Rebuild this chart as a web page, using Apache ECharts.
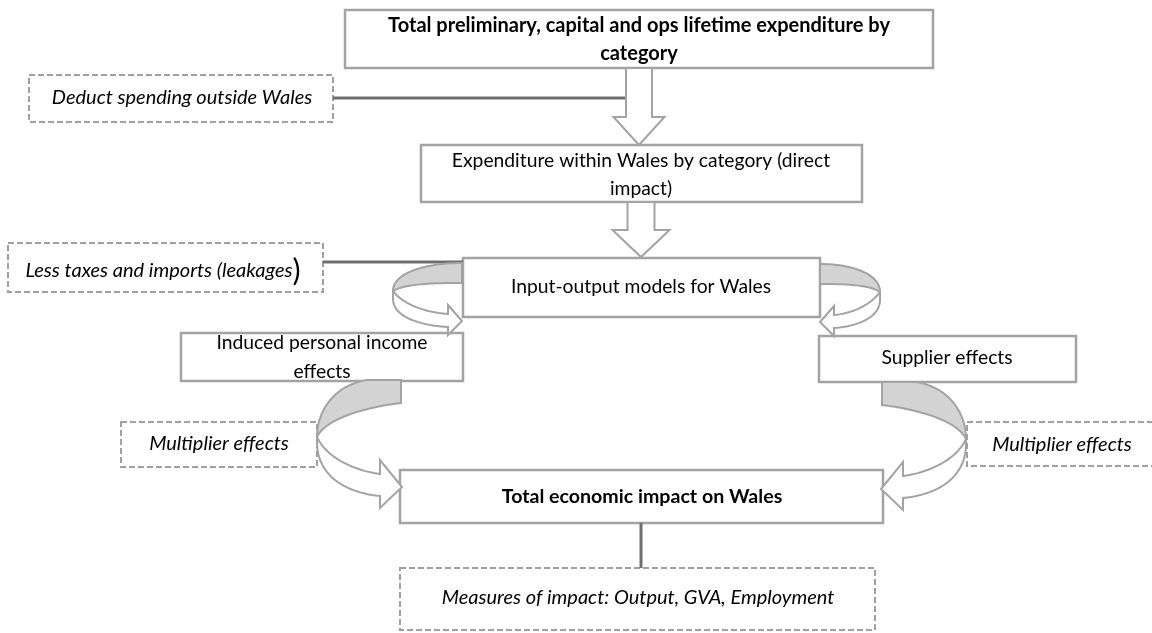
<!DOCTYPE html>
<html>
<head>
<meta charset="utf-8">
<script src="https://cdn.jsdelivr.net/npm/echarts@6/dist/echarts.min.js"></script>
<style>html,body{margin:0;padding:0;background:#fff;}#main{width:1152px;height:633px;}</style>
</head>
<body>
<div id="main"></div>
<script>
// ---- text content ----
const mainNodes = [
  ['Total preliminary, capital and ops lifetime expenditure by', 'category'],
  ['Expenditure within Wales by category (direct', 'impact)'],
  ['Input-output models for Wales'],
  ['Induced personal income', 'effects'],
  ['Supplier effects'],
  ['Total economic impact on Wales']
];
const sideNotes = [
  'Deduct spending outside Wales',
  'Less taxes and imports (leakages',
  'Multiplier effects',
  'Multiplier effects',
  'Measures of impact: Output, GVA, Employment'
];

// ---- layout ----
const BOX = '#a3a3a3', DASH = '#a0a0a0', LINE = '#6e6e6e', GRAYFILL = '#d3d3d3', TXT = '#000';
const FONT = 'Lato, "Liberation Sans", sans-serif';
const els = [];
function box(x, y, w, h) {
  els.push({type:'rect', shape:{x, y, width:w, height:h}, style:{fill:'#fff', stroke:BOX, lineWidth:2.5}, z:1});
}
function dbox(x, y, w, h) {
  els.push({type:'rect', shape:{x, y, width:w, height:h}, style:{fill:'#fff', stroke:DASH, lineWidth:2, lineDash:[6,3]}, z:1});
}
function line(x1, y1, x2, y2) {
  els.push({type:'line', shape:{x1, y1, x2, y2}, style:{stroke:LINE, lineWidth:3}, z:2});
}
function text(t, x, y, size, weight, style, rich) {
  const st = {text:t, fill:TXT, font: (style||'normal') + ' ' + (weight||'normal') + ' ' + size + 'px ' + FONT,
    align:'center', verticalAlign:'middle', textAlign:'center', textVerticalAlign:'middle'};
  if (rich) st.rich = rich;
  els.push({type:'text', x, y, z:5, style:st});
}
// simple path builder -> polygon points (cubic beziers sampled)
function P() {
  const pts = [];
  let cur = null;
  const api = {
    M(x, y) { pts.push([x, y]); cur = [x, y]; return api; },
    L(x, y) { pts.push([x, y]); cur = [x, y]; return api; },
    C(x1, y1, x2, y2, x, y) {
      const n = 28, [x0, y0] = cur;
      for (let i = 1; i <= n; i++) {
        const t = i / n, u = 1 - t;
        pts.push([u*u*u*x0 + 3*u*u*t*x1 + 3*u*t*t*x2 + t*t*t*x,
                  u*u*u*y0 + 3*u*u*t*y1 + 3*u*t*t*y2 + t*t*t*y]);
      }
      cur = [x, y]; return api;
    },
    draw(fill) {
      els.push({type:'polygon', shape:{points:pts}, style:{fill, stroke:BOX, lineWidth:2, lineJoin:'miter'}, z:3});
    }
  };
  return api;
}
function downArrow(cx, y0, y1, y2, sw, hw) {
  P().M(cx-sw/2, y0).L(cx+sw/2, y0).L(cx+sw/2, y1).L(cx+hw/2, y1).L(cx, y2).L(cx-hw/2, y1).L(cx-sw/2, y1).draw('#fff');
}
function topArrow(xa, yt, s, w) {
  const k = w / 69;
  const X = d => xa - s * d;
  P().M(X(0), yt).C(X(37*k), yt, X(w), yt+10, X(w), yt+28)
     .C(X(57*k), yt+21, X(32*k), yt+20, X(0), yt+20).draw(GRAYFILL);
  P().M(X(w), yt+28).C(X(w-9), yt+40, X(40*k), yt+49, X(14), yt+51)
     .L(X(14), yt+42).L(X(0), yt+58).L(X(14), yt+72).L(X(14), yt+64)
     .C(X(47*k), yt+62, X(w), yt+52, X(w), yt+36).draw('#fff');
}
function bottomArrow(xa, yt, s) {
  const X = d => xa - s * d;
  P().M(X(34), yt).L(X(0), yt).L(X(0), yt+23)
     .C(X(41), yt+28, X(76), yt+40, X(84), yt+57)
     .C(X(84), yt+30, X(66), yt+5, X(34), yt).draw(GRAYFILL);
  P().M(X(84), yt+57).C(X(76), yt+75, X(51), yt+90, X(21), yt+94)
     .L(X(21), yt+80).L(X(-1), yt+107).L(X(21), yt+128).L(X(21), yt+116)
     .C(X(61), yt+112, X(84), yt+92, X(84), yt+62).draw('#fff');
}

// connectors
line(333, 98, 627, 98);
line(323, 262, 463, 262);
line(641, 523, 641, 568);

// boxes
box(345, 10, 588, 58);
box(421, 145, 441, 57);
box(463, 258, 357, 59);
box(181, 333, 282, 48);
box(819, 336, 257, 46);
box(400, 470, 483, 53);
dbox(29, 75, 304, 47);
dbox(8, 243, 315, 49);
dbox(121, 422, 196, 45);
dbox(967, 422, 190, 44);
dbox(400, 568, 475, 62);

// block arrows
downArrow(639, 68, 117, 145, 26, 51);
downArrow(641, 202, 230, 257, 27, 57);
topArrow(462, 263, 1, 69);
topArrow(820, 264, -1, 60);
bottomArrow(401, 380, 1);
bottomArrow(882, 382, -1);

// texts
text(mainNodes[0][0], 639, 26, 20, 'bold');
text(mainNodes[0][1], 639, 54, 20, 'bold');
text(mainNodes[1][0], 641, 161, 19.3);
text(mainNodes[1][1], 641, 189, 19.3);
text(mainNodes[2][0], 641, 287, 19.3);
text(mainNodes[3][0], 322, 343, 19.3);
text(mainNodes[3][1], 322, 372, 19.3);
text(mainNodes[4][0], 947, 358, 19.3);
text(mainNodes[5][0], 642, 497, 19.6, 'bold');
text(sideNotes[0], 182, 98, 20, 'normal', 'italic');
text(sideNotes[1] + '{b|)}', 163, 271, 20, 'normal', 'italic', {b:{fontSize:30, fontFamily:FONT, fill:TXT}});
text(sideNotes[2], 219, 444, 20, 'normal', 'italic');
text(sideNotes[3], 1062, 445, 20, 'normal', 'italic');
text(sideNotes[4], 638, 598, 20, 'normal', 'italic');

const chart = echarts.init(document.getElementById('main'), null, {renderer:'canvas'});
chart.setOption({backgroundColor:'#fff', animation:false, graphic:{elements:els}});
</script>
</body>
</html>
